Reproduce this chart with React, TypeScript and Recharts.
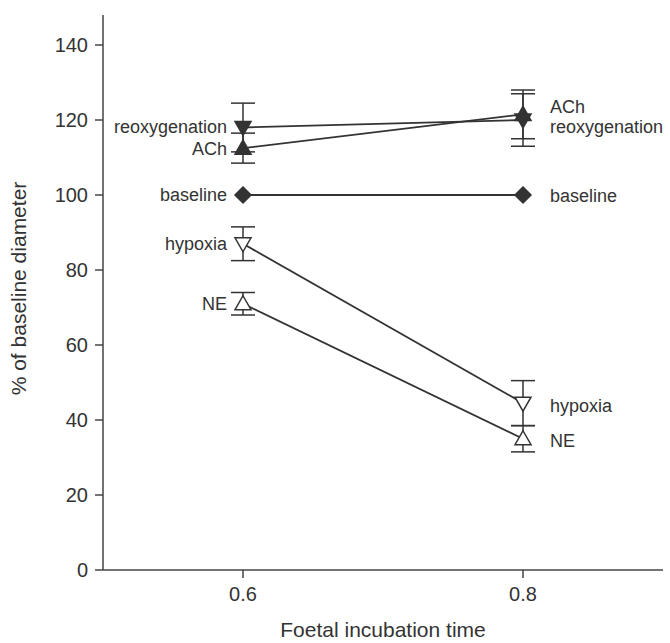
import { LineChart, Line, XAxis, YAxis, ErrorBar, LabelList, Label } from 'recharts';

const FONT = "'Liberation Sans', Arial, sans-serif";
const INK = '#333';

// foetal incubation time (x) and % of baseline diameter per condition
const xValues = [0.6, 0.8];
const baseline = [100, 100];
const ach = [112.5, 121.5];
const achErr = [4, 6.5];
const reoxygenation = [118, 120];
const reoxygenationErr = [6.5, 7];
const hypoxia = [87, 44.5];
const hypoxiaErr = [4.5, 6];
const ne = [71, 35];
const neErr = [3, 3.5];

const xTicks = [0.6, 0.8];
const yTicks = [0, 20, 40, 60, 80, 100, 120, 140];

const data = xValues.map((x, i) => ({
  x,
  baseline: baseline[i],
  ach: ach[i],
  achErr: achErr[i],
  reoxygenation: reoxygenation[i],
  reoxygenationErr: reoxygenationErr[i],
  hypoxia: hypoxia[i],
  hypoxiaErr: hypoxiaErr[i],
  ne: ne[i],
  neErr: neErr[i],
}));

type Shape = 'diamond' | 'up' | 'down';

interface Series {
  key: string;
  label: string;
  shape: Shape;
  filled: boolean;
  err?: string;
  dy: [number, number]; // label nudge at left / right point
}

const SERIES: Series[] = [
  { key: 'baseline', label: 'baseline', shape: 'diamond', filled: true, dy: [0, 1] },
  { key: 'ne', label: 'NE', shape: 'up', filled: false, err: 'neErr', dy: [0, 2] },
  { key: 'hypoxia', label: 'hypoxia', shape: 'down', filled: false, err: 'hypoxiaErr', dy: [0, 3] },
  { key: 'ach', label: 'ACh', shape: 'up', filled: true, err: 'achErr', dy: [1, -7] },
  { key: 'reoxygenation', label: 'reoxygenation', shape: 'down', filled: true, err: 'reoxygenationErr', dy: [-1, 7] },
];

const TICK = { fontSize: 20, fill: INK, fontFamily: FONT };
const TITLE = { fontSize: 21, fill: INK, fontFamily: FONT };

function Marker({ cx, cy, shape, filled }: { cx: number; cy: number; shape: Shape; filled: boolean }) {
  const fill = filled ? INK : '#fff';
  let pts = '';
  if (shape === 'diamond') pts = `${cx},${cy - 8} ${cx + 8},${cy} ${cx},${cy + 8} ${cx - 8},${cy}`;
  if (shape === 'up') pts = `${cx},${cy - 8} ${cx + 8},${cy + 6} ${cx - 8},${cy + 6}`;
  if (shape === 'down') pts = `${cx},${cy + 8} ${cx + 8},${cy - 6} ${cx - 8},${cy - 6}`;
  return <polygon points={pts} fill={fill} stroke={INK} strokeWidth={1.5} />;
}

export default function App() {
  return (
    <div style={{ position: 'absolute', left: 0, top: 0, background: '#fff' }}>
      <LineChart width={670} height={643} data={data} margin={{ top: 15, right: 7, bottom: 0, left: 0 }}>
        <XAxis
          dataKey="x"
          type="number"
          domain={[0.5, 0.9]}
          ticks={xTicks}
          height={73}
          tick={TICK}
          tickSize={8}
          tickMargin={9}
          axisLine={{ stroke: '#444', strokeWidth: 1.5 }}
          tickLine={{ stroke: '#444', strokeWidth: 1.5 }}
        >
          <Label value="Foetal incubation time" position="insideBottom" offset={6} style={TITLE} />
        </XAxis>
        <YAxis
          type="number"
          domain={[0, 148]}
          ticks={yTicks}
          width={103}
          tick={TICK}
          tickSize={8}
          tickMargin={7}
          axisLine={{ stroke: '#444', strokeWidth: 1.5 }}
          tickLine={{ stroke: '#444', strokeWidth: 1.5 }}
        >
          <Label
            content={({ viewBox }: any) => {
              const cy = viewBox.y + viewBox.height / 2 - 4;
              return (
                <text
                  x={18}
                  y={cy}
                  transform={`rotate(-90 18 ${cy})`}
                  textAnchor="middle"
                  dominantBaseline="central"
                  style={TITLE}
                >
                  % of baseline diameter
                </text>
              );
            }}
          />
        </YAxis>
        {SERIES.map((s) => (
          <Line
            key={s.key}
            dataKey={s.key}
            type="linear"
            stroke={INK}
            strokeWidth={1.8}
            isAnimationActive={false}
            dot={(p: any) => <Marker key={`${s.key}-${p.index}`} cx={p.cx} cy={p.cy} shape={s.shape} filled={s.filled} />}
            activeDot={false}
          >
            {s.err && <ErrorBar dataKey={s.err} direction="y" width={12} stroke={INK} strokeWidth={1.5} />}
            <LabelList
              dataKey={s.key}
              content={(p: any) => {
                const left = p.index === 0;
                return (
                  <text
                    x={left ? p.x - 16 : p.x + 27}
                    y={p.y + s.dy[left ? 0 : 1]}
                    textAnchor={left ? 'end' : 'start'}
                    dominantBaseline="central"
                    style={{ fontSize: 18, fill: INK, fontFamily: FONT }}
                  >
                    {s.label}
                  </text>
                );
              }}
            />
          </Line>
        ))}
      </LineChart>
    </div>
  );
}
